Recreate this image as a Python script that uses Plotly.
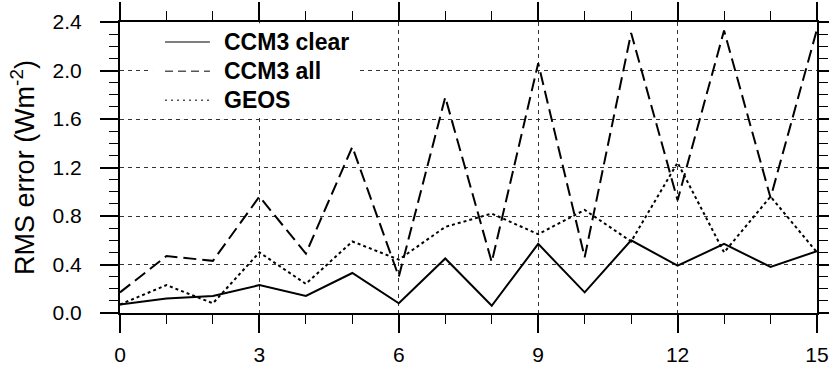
import plotly.graph_objects as go

# Forecast hour index
hours = list(range(16))

# RMS error (W m^-2) for each configuration
ccm3_clear = [0.07, 0.12, 0.14, 0.23, 0.14, 0.33, 0.08, 0.45, 0.06, 0.57, 0.17, 0.60, 0.39, 0.57, 0.38, 0.51]
ccm3_all = [0.17, 0.47, 0.43, 0.96, 0.49, 1.37, 0.30, 1.78, 0.42, 2.06, 0.46, 2.31, 0.93, 2.33, 0.95, 2.34]
geos = [0.07, 0.23, 0.08, 0.50, 0.24, 0.59, 0.44, 0.71, 0.82, 0.65, 0.85, 0.59, 1.24, 0.50, 0.96, 0.50]

series_names = ["CCM3 clear", "CCM3 all", "GEOS"]
x_ticks = [0, 3, 6, 9, 12, 15]
y_ticks = [0.0, 0.4, 0.8, 1.2, 1.6, 2.0, 2.4]

FONT = "Liberation Sans, Arial, Helvetica, sans-serif"
dashes = ["solid", "13px,6px", "3px,3px"]
key_dashes = ["solid", "8px,5px", "2px,4px"]
series = [ccm3_clear, ccm3_all, geos]

fig = go.Figure()
for name, vals, dash in zip(series_names, series, dashes):
    fig.add_trace(go.Scatter(
        x=hours, y=vals, mode="lines", name=name, showlegend=False,
        line=dict(color="black", width=2, dash=dash),
    ))

# Key box in the upper-left corner (paper coordinates)
key_rows = [0.931, 0.831, 0.731]
fig.add_shape(type="rect", xref="paper", yref="paper", x0=0.046, x1=0.340, y0=0.672, y1=0.996,
              fillcolor="white", line=dict(width=0), layer="above")
for name, dash, yr in zip(series_names, key_dashes, key_rows):
    fig.add_shape(type="line", xref="paper", yref="paper", x0=0.0646, x1=0.129, y0=yr, y1=yr,
                  line=dict(color="#555555", width=1.5, dash=dash), layer="above")
    fig.add_annotation(xref="paper", yref="paper", x=0.1463, y=yr, xanchor="left", yanchor="middle",
                       text=f"<b>{name}</b>", showarrow=False,
                       font=dict(family=FONT, size=23, color="black"))

axis_common = dict(
    showline=True, linecolor="black", linewidth=2, mirror="ticks",
    ticks="outside", ticklen=18, tickwidth=2, tickcolor="black",
    showgrid=True, gridcolor="#333333", gridwidth=1, griddash="4px,4px",
    zeroline=False, automargin=False,
    tickfont=dict(family=FONT, size=21, color="black"),
)

fig.update_xaxes(
    range=[0, 15], tickvals=x_ticks, ticklabelstandoff=4,
    minor=dict(dtick=1, tick0=0, ticks="outside", ticklen=9, tickwidth=1, tickcolor="black", showgrid=False),
    **axis_common,
)
fig.update_yaxes(
    range=[0, 2.4], tickvals=y_ticks, tickformat=".1f", ticklabelstandoff=14,
    minor=dict(dtick=0.1, tick0=0, ticks="outside", ticklen=9, tickwidth=1, tickcolor="black", showgrid=False),
    title=dict(text="RMS error (Wm<sup>-2</sup>)", font=dict(family=FONT, size=27, color="black"), standoff=10),
    **axis_common,
)

fig.update_layout(
    width=829, height=367,
    margin=dict(l=120, r=12, t=22, b=54),
    paper_bgcolor="white", plot_bgcolor="white",
    showlegend=False,
)

fig.write_html("out.html")
